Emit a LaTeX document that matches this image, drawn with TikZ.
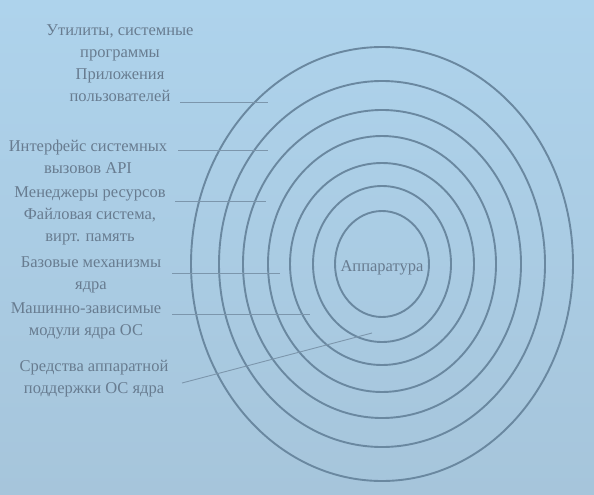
\documentclass[tikz,border=0pt]{standalone}
\usepackage{fontspec}
\setmainfont{Liberation Serif}
\definecolor{bgtop}{RGB}{174,211,236}
\definecolor{bgbot}{RGB}{166,197,219}
\definecolor{ringc}{RGB}{106,136,160}
\definecolor{txtc}{RGB}{104,124,144}
\definecolor{leadc}{RGB}{124,150,172}
\begin{document}
\begin{tikzpicture}[x=1pt,y=-1pt,
  ring/.style={draw=ringc,line width=1.9pt},
  lbl/.style={text=txtc,align=center,inner sep=0pt,font=\fontsize{16.5}{22}\selectfont},
  leader/.style={draw=leadc,line width=0.9pt}]
\shade[top color=bgtop,bottom color=bgbot] (0,0) rectangle (594,495);
\useasboundingbox (0,0) rectangle (594,495);
\coordinate (c) at (382,264);
\foreach \rx/\ry in {191/217,163/183,139/154,114/128,92/101,69/78,47/53}
  \draw[ring] (c) ellipse [x radius=\rx pt, y radius=\ry pt];
\node[lbl] (hw) at (382,268) {Аппаратура};
\node[lbl] (t1) at (120,63) {Утилиты, системные\\программы\\Приложения\\пользователей};
\node[lbl] (t2) at (88,157) {Интерфейс системных\\вызовов API};
\node[lbl] (t3) at (90,216) {Менеджеры ресурсов\\Файловая система,\\вирт. память};
\node[lbl] (t4) at (91,275) {Базовые механизмы\\ядра};
\node[lbl] (t5) at (86,321) {Машинно-зависимые\\модули ядра ОС};
\node[lbl] (t6) at (94,379) {Средства аппаратной\\поддержки ОС ядра};
\coordinate (s1) at (180,102); \coordinate (e1) at (268,102);
\coordinate (s2) at (178,150); \coordinate (e2) at (268,150);
\coordinate (s3) at (175,201); \coordinate (e3) at (266,201);
\coordinate (s4) at (172,273); \coordinate (e4) at (280,273);
\coordinate (s5) at (172,314); \coordinate (e5) at (310,314);
\coordinate (s6) at (182,383); \coordinate (e6) at (372,333);
\foreach \i in {1,...,6} \draw[leader] (s\i) -- (e\i);
\end{tikzpicture}
\end{document}
